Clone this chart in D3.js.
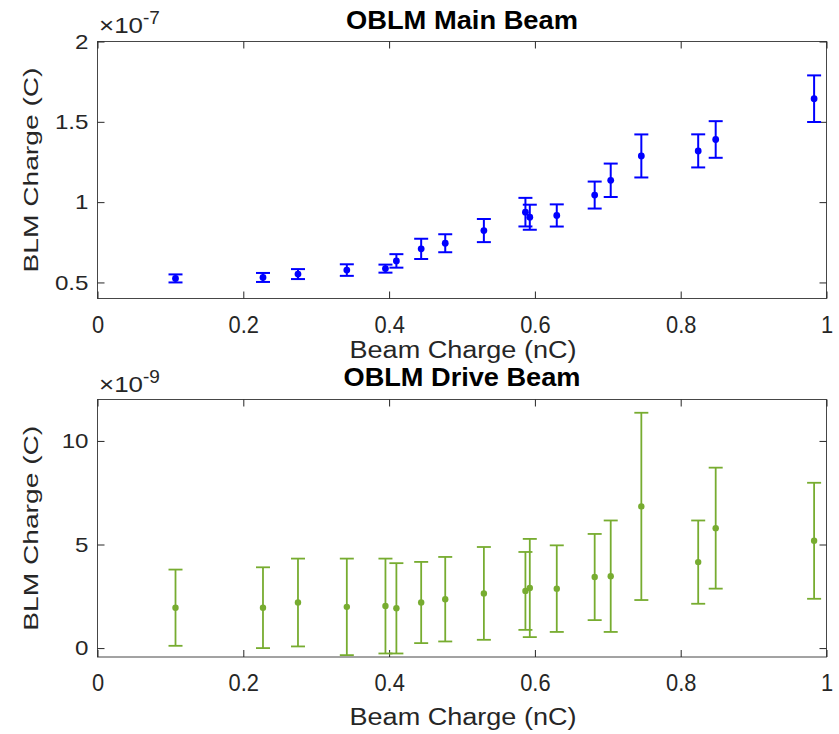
<!DOCTYPE html>
<html><head><meta charset="utf-8">
<script src="https://cdn.jsdelivr.net/npm/d3@7/dist/d3.min.js"></script>
<style>body{margin:0;background:#fff}svg{display:block}</style>
</head><body>
<svg id="c" width="839" height="734"></svg>
<script>
// Beam charge (nC) — shared by both panels
const beamCharge = [0.107,0.227,0.275,0.342,0.395,0.410,0.444,0.477,0.530,0.587,0.593,0.630,0.682,0.704,0.746,0.824,0.848,0.983];
// Main beam BLM charge, in units of 1e-7 C
const mainBLM = [0.525,0.531,0.552,0.577,0.586,0.634,0.709,0.744,0.823,0.9375,0.906,0.917,1.044,1.136,1.2875,1.319,1.39,1.644];
const mainErr = [0.025,0.028,0.031,0.036,0.025,0.042,0.063,0.056,0.072,0.089,0.078,0.069,0.084,0.104,0.134,0.103,0.114,0.145];
// Drive beam BLM charge, in units of 1e-9 C
const driveBLM = [1.95,1.95,2.20,1.99,2.03,1.92,2.20,2.36,2.64,2.76,2.90,2.87,3.43,3.47,6.84,4.15,5.79,5.18];
const driveErr = [1.84,1.95,2.12,2.33,2.29,2.18,1.96,2.04,2.24,1.88,2.37,2.09,2.08,2.69,4.52,2.01,2.92,2.80];
// Ticks
const xTicks = [0,0.2,0.4,0.6,0.8,1];
const mainYTicks = [0.5,1,1.5,2];
const driveYTicks = [0,5,10];
const xTickLabels = ["0","0.2","0.4","0.6","0.8","1"];
const mainYTickLabels = ["0.5","1","1.5","2"];
const driveYTickLabels = ["0","5","10"];

const FONT = '"Liberation Sans", Arial, Helvetica, sans-serif';
const AXC = '#262626';
const svg = d3.select('#c');

function stretch(sel, k){
  sel.each(function(){
    const w = this.getComputedTextLength();
    this.setAttribute('textLength', w*k);
    this.setAttribute('lengthAdjust','spacingAndGlyphs');
  });
}
function fitTo(sel, w){
  sel.attr('textLength', w).attr('lengthAdjust','spacingAndGlyphs');
}

function panel(o){
  const L=97.5, R=826.5;
  const x = d3.scaleLinear().domain([0,1]).range([L,R]);
  const y = d3.scaleLinear().domain(o.ydom).range([o.bottom,o.top]);
  const g = svg.append('g');

  const xa = g.append('g').attr('transform',`translate(0,${o.bottom})`)
    .call(d3.axisBottom(x).tickValues(xTicks).tickFormat((d,i)=>xTickLabels[i])
      .tickSizeInner(-7).tickSizeOuter(0).tickPadding(o.xpad));
  const xt = g.append('g').attr('transform',`translate(0,${o.top})`)
    .call(d3.axisTop(x).tickValues(xTicks).tickFormat('').tickSizeInner(-7).tickSizeOuter(0));
  const ya = g.append('g').attr('transform',`translate(${L},0)`)
    .call(d3.axisLeft(y).tickValues(o.yticks).tickFormat((d,i)=>o.ylabels[i])
      .tickSizeInner(-7).tickSizeOuter(0).tickPadding(9));
  const yr = g.append('g').attr('transform',`translate(${R},0)`)
    .call(d3.axisRight(y).tickValues(o.yticks).tickFormat('').tickSizeInner(-7).tickSizeOuter(0));
  [xa,xt,ya,yr].forEach(a=>{
    a.select('.domain').remove();
    a.selectAll('line').attr('stroke',AXC).attr('stroke-width',1);
  });
  xa.selectAll('text').attr('fill',AXC).style('font-family',FONT).style('font-size','23px');
  stretch(xa.selectAll('text'), 0.95);
  ya.selectAll('text').attr('fill',AXC).style('font-family',FONT).style('font-size','21px');
  stretch(ya.selectAll('text'), 1.15);

  g.append('rect').attr('x',L).attr('y',o.top).attr('width',R-L).attr('height',o.bottom-o.top)
    .attr('fill','none').attr('stroke',AXC).attr('stroke-width',1).attr('opacity',0.85);

  const data = beamCharge.map((b,i)=>({b, v:o.vals[i], e:o.errs[i]}));
  const eb = g.append('g').attr('stroke',o.color).attr('stroke-width',o.lw).attr('fill','none');
  const cap = 7;
  data.forEach(d=>{
    const cx = x(d.b), y1 = y(d.v+d.e), y0 = y(d.v-d.e);
    eb.append('line').attr('x1',cx).attr('x2',cx).attr('y1',y1).attr('y2',y0);
    eb.append('line').attr('x1',cx-cap).attr('x2',cx+cap).attr('y1',y1).attr('y2',y1);
    eb.append('line').attr('x1',cx-cap).attr('x2',cx+cap).attr('y1',y0).attr('y2',y0);
  });
  g.append('g').selectAll('circle').data(data).join('circle')
    .attr('cx',d=>x(d.b)).attr('cy',d=>y(d.v)).attr('r',o.r).attr('fill',o.color);

  const t = g.append('text').attr('x',462).attr('y',o.titleY).attr('text-anchor','middle')
    .style('font-family',FONT).style('font-weight','bold').style('font-size','25px')
    .attr('fill','#000').text(o.title);
  fitTo(t, o.titleW);

  const xl = g.append('text').attr('x',463).attr('y',o.xlabY).attr('text-anchor','middle')
    .style('font-family',FONT).style('font-size','23px').attr('fill',AXC).text('Beam Charge (nC)');
  fitTo(xl, 227);

  const cy = (o.top+o.bottom)/2;
  const yl = g.append('text').attr('transform',`translate(38,${cy}) rotate(-90)`)
    .attr('text-anchor','middle')
    .style('font-family',FONT).style('font-size','21px').attr('fill',AXC).text('BLM Charge (C)');
  fitTo(yl, 205);

  const ex = g.append('text').attr('x',99).attr('y',o.expY)
    .style('font-family',FONT).style('font-size','22px').attr('fill',AXC);
  ex.append('tspan').attr('textLength',44).attr('lengthAdjust','spacingAndGlyphs').text('\u00d710');
  ex.append('tspan').style('font-size','19px').attr('dy',-9).text(o.exp);
}

panel({top:41.5,bottom:298.5,ydom:[0.4,2],yticks:mainYTicks,ylabels:mainYTickLabels,
  vals:mainBLM,errs:mainErr,color:'#0000ff',lw:2,r:3.4,title:'OBLM Main Beam',titleY:29,titleW:232,
  xpad:18,xlabY:357.5,exp:'-7',expY:33});
panel({top:399.5,bottom:657,ydom:[-0.43,12],yticks:driveYTicks,ylabels:driveYTickLabels,
  vals:driveBLM,errs:driveErr,color:'#77ac30',lw:1.8,r:3.2,title:'OBLM Drive Beam',titleY:386,titleW:237,
  xpad:18,xlabY:725,exp:'-9',expY:392});
</script>
</body></html>
